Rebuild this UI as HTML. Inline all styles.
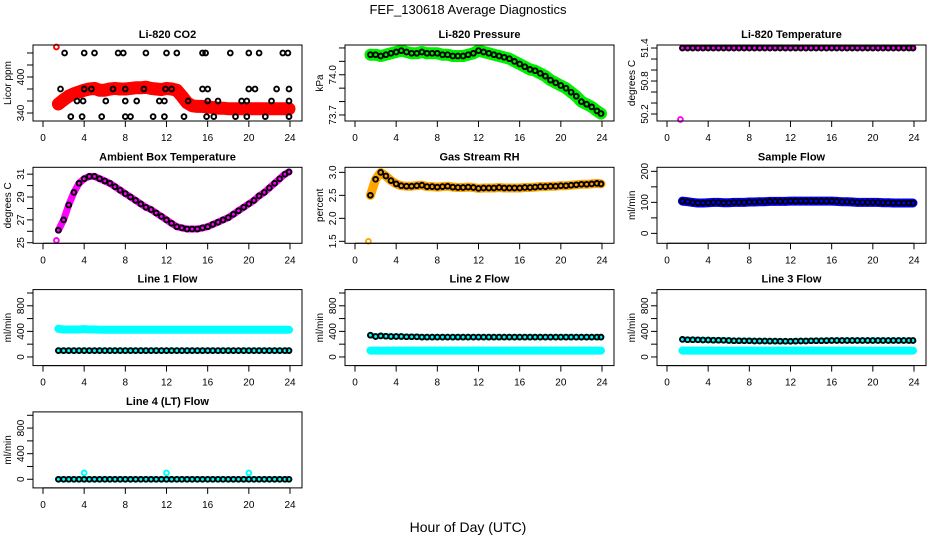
<!DOCTYPE html>
<html><head><meta charset="utf-8"><style>
html,body{margin:0;padding:0;background:#fff;}
svg{display:block;font-family:"Liberation Sans",sans-serif;}
</style></head><body>
<svg id="chart" width="936" height="540" viewBox="0 0 936 540">
<text x="468" y="14" text-anchor="middle" font-size="13">FEF_130618  Average Diagnostics</text>
<text x="468" y="532" text-anchor="middle" font-size="14">Hour of Day (UTC)</text>
</svg>
<script>
const hours = [1.5,2,2.5,3,3.5,4,4.5,5,5.5,6,6.5,7,7.5,8,8.5,9,9.5,10,10.5,11,11.5,12,12.5,13,13.5,14,14.5,15,15.5,16,16.5,17,17.5,18,18.5,19,19.5,20,20.5,21,21.5,22,22.5,23,23.5,23.9];
const xTicks = [0,4,8,12,16,20,24];
const co2Red = [355,362,368,372,375,378,380,381,378,378,380,381,380,380,381,382,382,383,381,380,379,381,380,378,368,357,352,351,351,350,349,348,348,347,347,347,347,347,347,347,347,347,347,347,347,347];
const co2BlackHours = [2.1,4,5,7.3,7.8,10,12,13,15.5,15.8,18.2,20,21,23.3,23.8, 1.7,4,4.7,6.8,8,9.8,11.9,12.5,15.5,16,20,20.6,22.7,23.9, 3.3,3.9,6.1,8,9.1,11.3,11.8,14.1,16,17,19.3,19.8,22.2,23.9, 2.7,3.8,5.7,8,8.5,10.7,11.8,13.7,15.9,16.6,18.7,19.8,21.6,23.9];
const co2BlackVals = [440,440,440,440,440,440,440,440,440,440,440,440,440,440,440, 380,380,380,380,380,380,380,380,380,380,380,380,380,380, 360,360,360,360,360,360,360,360,360,360,360,360,360,360, 334,334,334,334,334,334,334,334,334,334,334,334,334,334];
const pressure = [74.15,74.15,74.14,74.15,74.16,74.17,74.18,74.17,74.16,74.16,74.17,74.16,74.16,74.16,74.15,74.15,74.14,74.14,74.14,74.15,74.16,74.18,74.17,74.16,74.15,74.14,74.13,74.12,74.10,74.08,74.06,74.04,74.03,74.01,73.99,73.96,73.94,73.92,73.90,73.87,73.84,73.80,73.78,73.76,73.73,73.71];
const liTemp = [51.4,51.4,51.4,51.4,51.4,51.4,51.4,51.4,51.4,51.4,51.4,51.4,51.4,51.4,51.4,51.4,51.4,51.4,51.4,51.4,51.4,51.4,51.4,51.4,51.4,51.4,51.4,51.4,51.4,51.4,51.4,51.4,51.4,51.4,51.4,51.4,51.4,51.4,51.4,51.4,51.4,51.4,51.4,51.4,51.4,51.4];
const ambient = [26.1,27.0,28.3,29.4,30.2,30.6,30.8,30.8,30.6,30.4,30.2,29.9,29.6,29.3,29.0,28.7,28.4,28.1,27.9,27.6,27.3,27.0,26.7,26.4,26.3,26.2,26.2,26.2,26.3,26.4,26.6,26.8,27.0,27.2,27.5,27.8,28.1,28.4,28.7,29.1,29.4,29.8,30.2,30.6,31.0,31.2];
const rh = [2.5,2.85,3.0,2.92,2.82,2.75,2.71,2.70,2.70,2.71,2.72,2.69,2.69,2.68,2.69,2.70,2.68,2.67,2.67,2.68,2.67,2.65,2.66,2.66,2.66,2.67,2.66,2.66,2.66,2.66,2.67,2.67,2.68,2.69,2.69,2.70,2.70,2.71,2.71,2.72,2.73,2.74,2.74,2.75,2.76,2.75];
const sampleFlow = [104,102,100,98,98,99,100,100,99,99,100,100,100,101,101,102,102,103,103,103,103,104,104,104,104,104,104,104,104,104,103,102,102,101,100,100,100,100,100,99,99,98,98,98,98,98];
const line1Cyan = [440,430,430,430,430,435,430,430,425,425,425,425,425,425,425,425,425,425,425,425,425,425,425,425,425,425,425,425,425,425,425,425,425,425,425,425,425,425,425,425,425,425,425,425,425,425];
const line1Black = [100,100,100,100,100,100,100,100,100,100,100,100,100,100,100,100,100,100,100,100,100,100,100,100,100,100,100,100,100,100,100,100,100,100,100,100,100,100,100,100,100,100,100,100,100,100];
const line2Black = [340,320,330,325,320,320,320,315,315,315,310,310,310,310,310,310,310,310,310,310,310,310,310,310,310,310,310,310,310,310,310,310,310,310,310,310,310,310,310,310,310,310,310,310,310,310];
const line2Cyan = [100,100,100,100,100,100,100,100,100,100,100,100,100,100,100,100,100,100,100,100,100,100,100,100,100,100,100,100,100,100,100,100,100,100,100,100,100,100,100,100,100,100,100,100,100,100];
const line3Black = [275,270,270,268,265,265,262,262,260,258,255,255,252,252,250,250,250,248,248,246,246,245,248,250,250,252,254,255,256,257,258,258,258,258,258,258,258,258,258,258,258,258,258,258,258,258];
const line3Cyan = [100,100,100,100,100,100,100,100,100,100,100,100,100,100,100,100,100,100,100,100,100,100,100,100,100,100,100,100,100,100,100,100,100,100,100,100,100,100,100,100,100,100,100,100,100,100];
const line4Black = [0,0,0,0,0,0,0,0,0,0,0,0,0,0,0,0,0,0,0,0,0,0,0,0,0,0,0,0,0,0,0,0,0,0,0,0,0,0,0,0,0,0,0,0,0,0];
const line4OutHours = [4,12,20];
const line4OutVals = [100,100,100];

const NS = 'http://www.w3.org/2000/svg';
const svg = document.getElementById('chart');
function mk(tag, attrs, parent){const e=document.createElementNS(NS,tag);for(const k in attrs)e.setAttribute(k,attrs[k]);(parent||svg).appendChild(e);return e;}

function panel(cfg){
  const left = 33 + 312*cfg.col, right = left + 269;
  const top = 45 + 122.3*cfg.row, bottom = top + 76;
  const g = mk('g',{});
  
  
  const xs = h => left + 10 + h*(247/24);
  const ys = v => bottom - (v - cfg.ylim[0])/(cfg.ylim[1]-cfg.ylim[0])*(bottom-top);
  const t = mk('text',{x:(left+right)/2,y:top-7,'text-anchor':'middle','font-size':11,'font-weight':'bold'},g);
  t.textContent = cfg.title;
  
  
  (cfg.series||[]).forEach((s,si)=>{
    const sg = mk('g',{},g);
    
    
    if(s.band){
      const pts = s.x.map((h,i)=>xs(h).toFixed(1)+','+ys(s.y[i]).toFixed(1)).join(' ');
      mk('polyline',{points:pts,fill:'none',stroke:s.color,'stroke-width':s.band,'stroke-linejoin':'round','stroke-linecap':'round'},sg);
    }
    s.x.forEach((h,i)=>{
      const c = mk('circle',{cx:xs(h).toFixed(1),cy:ys(s.y[i]).toFixed(1),r:2.4,fill:'none',stroke:s.color,'stroke-width':1.9},sg);
      
      
    });
  });
  mk('rect',{x:left,y:top,width:right-left,height:bottom-top,fill:'none',stroke:'#000','stroke-width':1},g);
  mk('line',{x1:xs(0),x2:xs(24),y1:bottom,y2:bottom,stroke:'#000'},g);
  xTicks.forEach(v=>{
    mk('line',{x1:xs(v),x2:xs(v),y1:bottom,y2:bottom+6,stroke:'#000'},g);
    const tl = mk('text',{x:xs(v),y:bottom+20,'text-anchor':'middle','font-size':10},g);
    tl.textContent = v;
    
    
  });
  cfg.yticks.forEach(v=>{
    mk('line',{x1:left-6,x2:left,y1:ys(v),y2:ys(v),stroke:'#000'},g);
  });
  cfg.ylabels.forEach(v=>{
    const y = ys(v);
    const tl = mk('text',{x:left-9,y:y,'text-anchor':'middle','font-size':10,transform:`rotate(-90 ${left-9} ${y})`},g);
    tl.textContent = v;
    
    
  });
  const yt = mk('text',{x:left-22,y:(top+bottom)/2,'text-anchor':'middle','font-size':10,transform:`rotate(-90 ${left-22} ${(top+bottom)/2})`},g);
  yt.textContent = cfg.ylab;
  
  
}

const flowTicks=[0,200,400,600,800,1000];
panel({name:'co2',title:'Li-820 CO2',col:0,row:0,ylim:[326.7,453.3],yticks:[340,360,380,400,420,440],ylabels:['340','400'],ylab:'Licor ppm',
  series:[{x:hours,y:co2Red,color:'#ff0000',band:13},{x:[1.3],y:[450],color:'#ff0000'},{x:co2BlackHours,y:co2BlackVals,color:'#000'}]});
panel({name:'pressure',title:'Li-820 Pressure',col:1,row:0,ylim:[73.655,74.222],yticks:[73.7,73.8,73.9,74.0,74.1,74.2],ylabels:['73.7','74.0'],ylab:'kPa',
  series:[{x:hours,y:pressure,color:'#00ee00',band:12},{x:hours,y:pressure,color:'#000'}]});
panel({name:'li820-temp',title:'Li-820 Temperature',col:2,row:0,ylim:[50.073,51.455],yticks:[50.2,50.4,50.6,50.8,51.0,51.2,51.4],ylabels:['50.2','50.8','51.4'],ylab:'degrees C',
  series:[{x:hours,y:liTemp,color:'#ff00ff',band:5},{x:[1.3],y:[50.1],color:'#ff00ff'},{x:hours,y:liTemp,color:'#000'}]});
panel({name:'ambient',title:'Ambient Box Temperature',col:0,row:1,ylim:[24.95,31.6],yticks:[25,26,27,28,29,30,31],ylabels:['25','27','29','31'],ylab:'degrees C',
  series:[{x:hours,y:ambient,color:'#ff00ff',band:7},{x:[1.3],y:[25.2],color:'#ff00ff'},{x:hours,y:ambient,color:'#000'}]});
panel({name:'rh',title:'Gas Stream RH',col:1,row:1,ylim:[1.457,3.11],yticks:[1.5,2.0,2.5,3.0],ylabels:['1.5','2.0','2.5','3.0'],ylab:'percent',
  series:[{x:hours,y:rh,color:'#ffa500',band:9},{x:[1.3],y:[1.5],color:'#ffa500'},{x:hours,y:rh,color:'#000'}]});
panel({name:'sample-flow',title:'Sample Flow',col:2,row:1,ylim:[-32,213],yticks:[0,50,100,150,200],ylabels:['0','100','200'],ylab:'ml/min',
  series:[{x:hours,y:sampleFlow,color:'#0000ff',band:9},{x:hours,y:sampleFlow,color:'#000'}]});
panel({name:'line1-flow',title:'Line 1 Flow',col:0,row:2,ylim:[-135,1053],yticks:flowTicks,ylabels:['0','400','800'],ylab:'ml/min',
  series:[{x:hours,y:line1Cyan,color:'#00ffff',band:8},{x:hours,y:line1Black,color:'#00ffff',band:6},{x:hours,y:line1Black,color:'#000'}]});
panel({name:'line2-flow',title:'Line 2 Flow',col:1,row:2,ylim:[-135,1053],yticks:flowTicks,ylabels:['0','400','800'],ylab:'ml/min',
  series:[{x:hours,y:line2Cyan,color:'#00ffff',band:8},{x:hours,y:line2Black,color:'#00ffff',band:6},{x:hours,y:line2Black,color:'#000'}]});
panel({name:'line3-flow',title:'Line 3 Flow',col:2,row:2,ylim:[-135,1053],yticks:flowTicks,ylabels:['0','400','800'],ylab:'ml/min',
  series:[{x:hours,y:line3Cyan,color:'#00ffff',band:8},{x:hours,y:line3Black,color:'#00ffff',band:6},{x:hours,y:line3Black,color:'#000'}]});
panel({name:'line4-flow',title:'Line 4 (LT) Flow',col:0,row:3,ylim:[-135,1053],yticks:flowTicks,ylabels:['0','400','800'],ylab:'ml/min',
  series:[{x:hours,y:line4Black,color:'#00ffff',band:6},{x:line4OutHours,y:line4OutVals,color:'#00ffff'},{x:hours,y:line4Black,color:'#000'}]});
</script>
</body></html>
